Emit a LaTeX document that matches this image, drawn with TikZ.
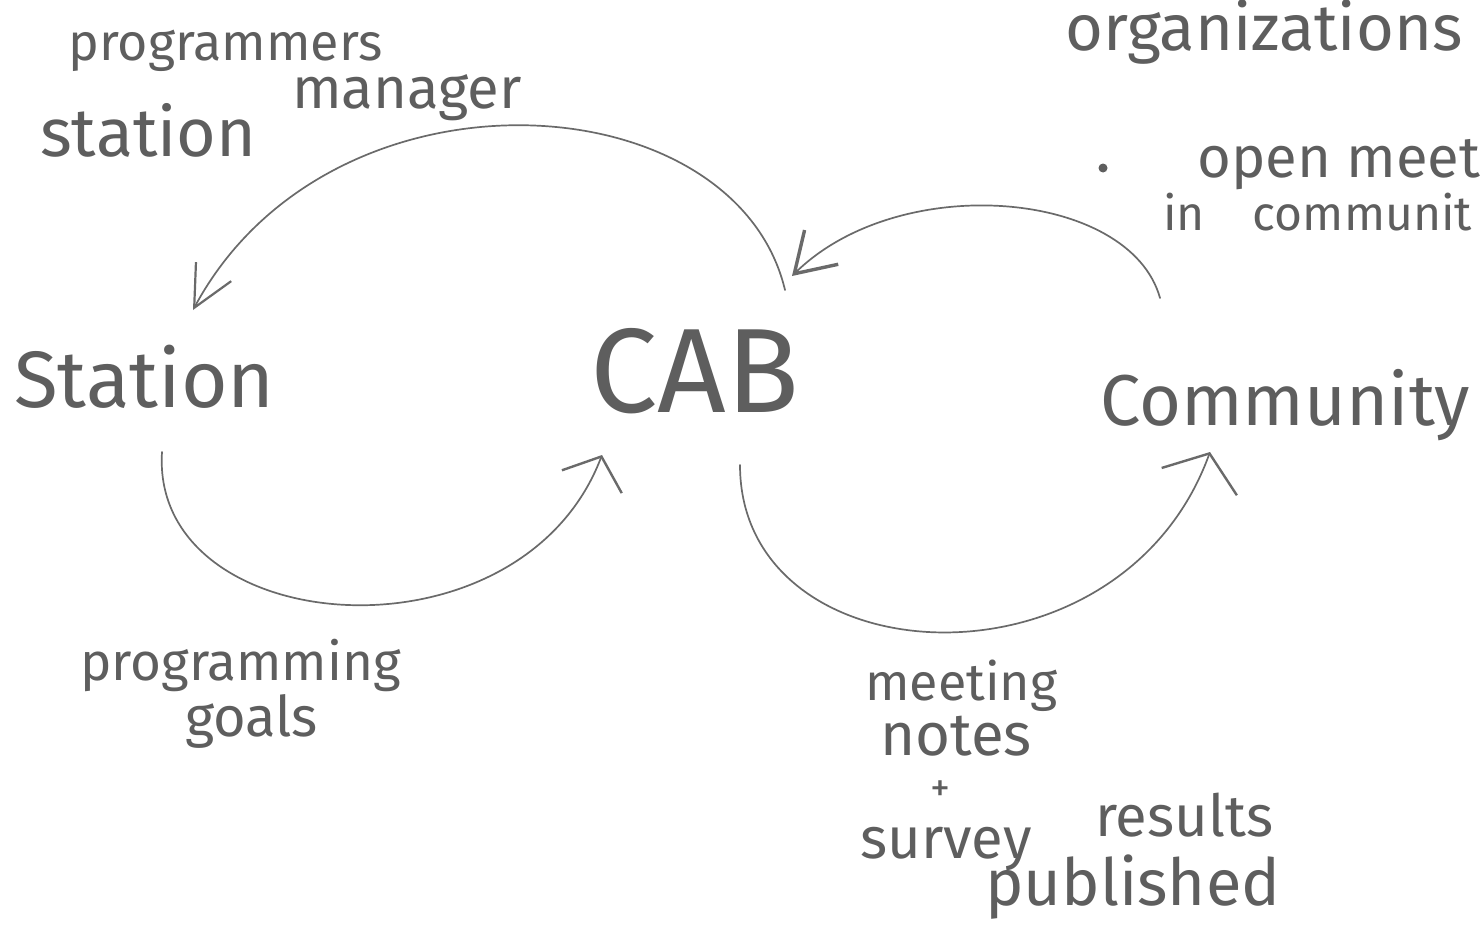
\documentclass[tikz,border=0pt]{standalone}
\usepackage{fontspec}
\setmainfont{Fira Sans}
\usetikzlibrary{arrows.meta}
\definecolor{ink}{HTML}{5E5E5E}
\definecolor{pencil}{HTML}{6A6A6A}
\newcommand\myfs[1]{\fontsize{#1}{#1}\selectfont}
\begin{document}
\begin{tikzpicture}[x=1pt,y=-1pt,
  hand/.style={text=ink,inner sep=0pt,anchor=base west},
  arcline/.style={draw=pencil,line width=1.7pt,line cap=round},
]
\useasboundingbox (0,0) rectangle (1482,948);
\fill[white] (0,0) rectangle (1482,948);
\clip (0,0) rectangle (1482,948);

% main nodes
\node[hand] (station) at (14,407) {\myfs{80}Station};
\node[hand] (cab) at (590,412) {\myfs{120}CAB};
\node[hand] (community) at (1100,425) {\myfs{72}Community};

% labels
\node[hand] (progs) at (68,60) {\myfs{52}programmers};
\node[hand] (stn) at (40,156) {\myfs{68}station};
\node[hand] (mgr) at (292,108) {\myfs{58}manager};
\node[hand] (org) at (1065,50) {\myfs{65}organizations};
\node[circle,fill=ink,inner sep=0pt,minimum size=9pt] (bullet) at (1103,168) {};
\node[hand] (open) at (1197,177) {\myfs{58}open meet};
\node[hand] (incom) at (1163,230) {\myfs{48}in\hspace{48pt}communit};
\node[hand] (pg1) at (80,680) {\myfs{53}programming};
\node[hand] (pg2) at (185,736) {\myfs{56}goals};
\node[hand] (mn1) at (865,700) {\myfs{52}meeting};
\node[hand] (mn2) at (880,755) {\myfs{60}notes};
\node[text=ink,inner sep=0pt,anchor=center] (mn3) at (940,791) {\myfs{40}+};
\node[hand] (mn4) at (860,858) {\myfs{58}survey};
\node[hand] (mn5) at (1095,836) {\myfs{58}results};
\node[hand] (mn6) at (985,905) {\myfs{65}published};

% connector end points
\coordinate (cabTop) at (785,290);
\coordinate (stnTip) at (193,310);
\coordinate (comTop) at (1160,298);
\coordinate (cabTip) at (792,276);
\coordinate (stnBot) at (162,452);
\coordinate (cabTipB) at (602,455);
\coordinate (cabBot) at (740,465);
\coordinate (comTip) at (1210,452);

% connectors
\draw[arcline,-{Straight Barb[length=41pt,width=40pt,line width=2.2pt]}]
  (cabTop) .. controls (735,80) and (330,55) .. (stnTip);
\draw[arcline,-{Straight Barb[length=38pt,width=48pt,line width=3.4pt]}]
  (comTop) .. controls (1130,190) and (900,170) .. (cabTip);
\draw[arcline,-{Straight Barb[length=27pt,width=64pt,line width=2.4pt]}]
  (stnBot) .. controls (150,640) and (520,670) .. (cabTipB);
\draw[arcline,-{Straight Barb[length=30pt,width=80pt,line width=2.4pt]}]
  (cabBot) .. controls (740,680) and (1120,700) .. (comTip);
\end{tikzpicture}
\end{document}
